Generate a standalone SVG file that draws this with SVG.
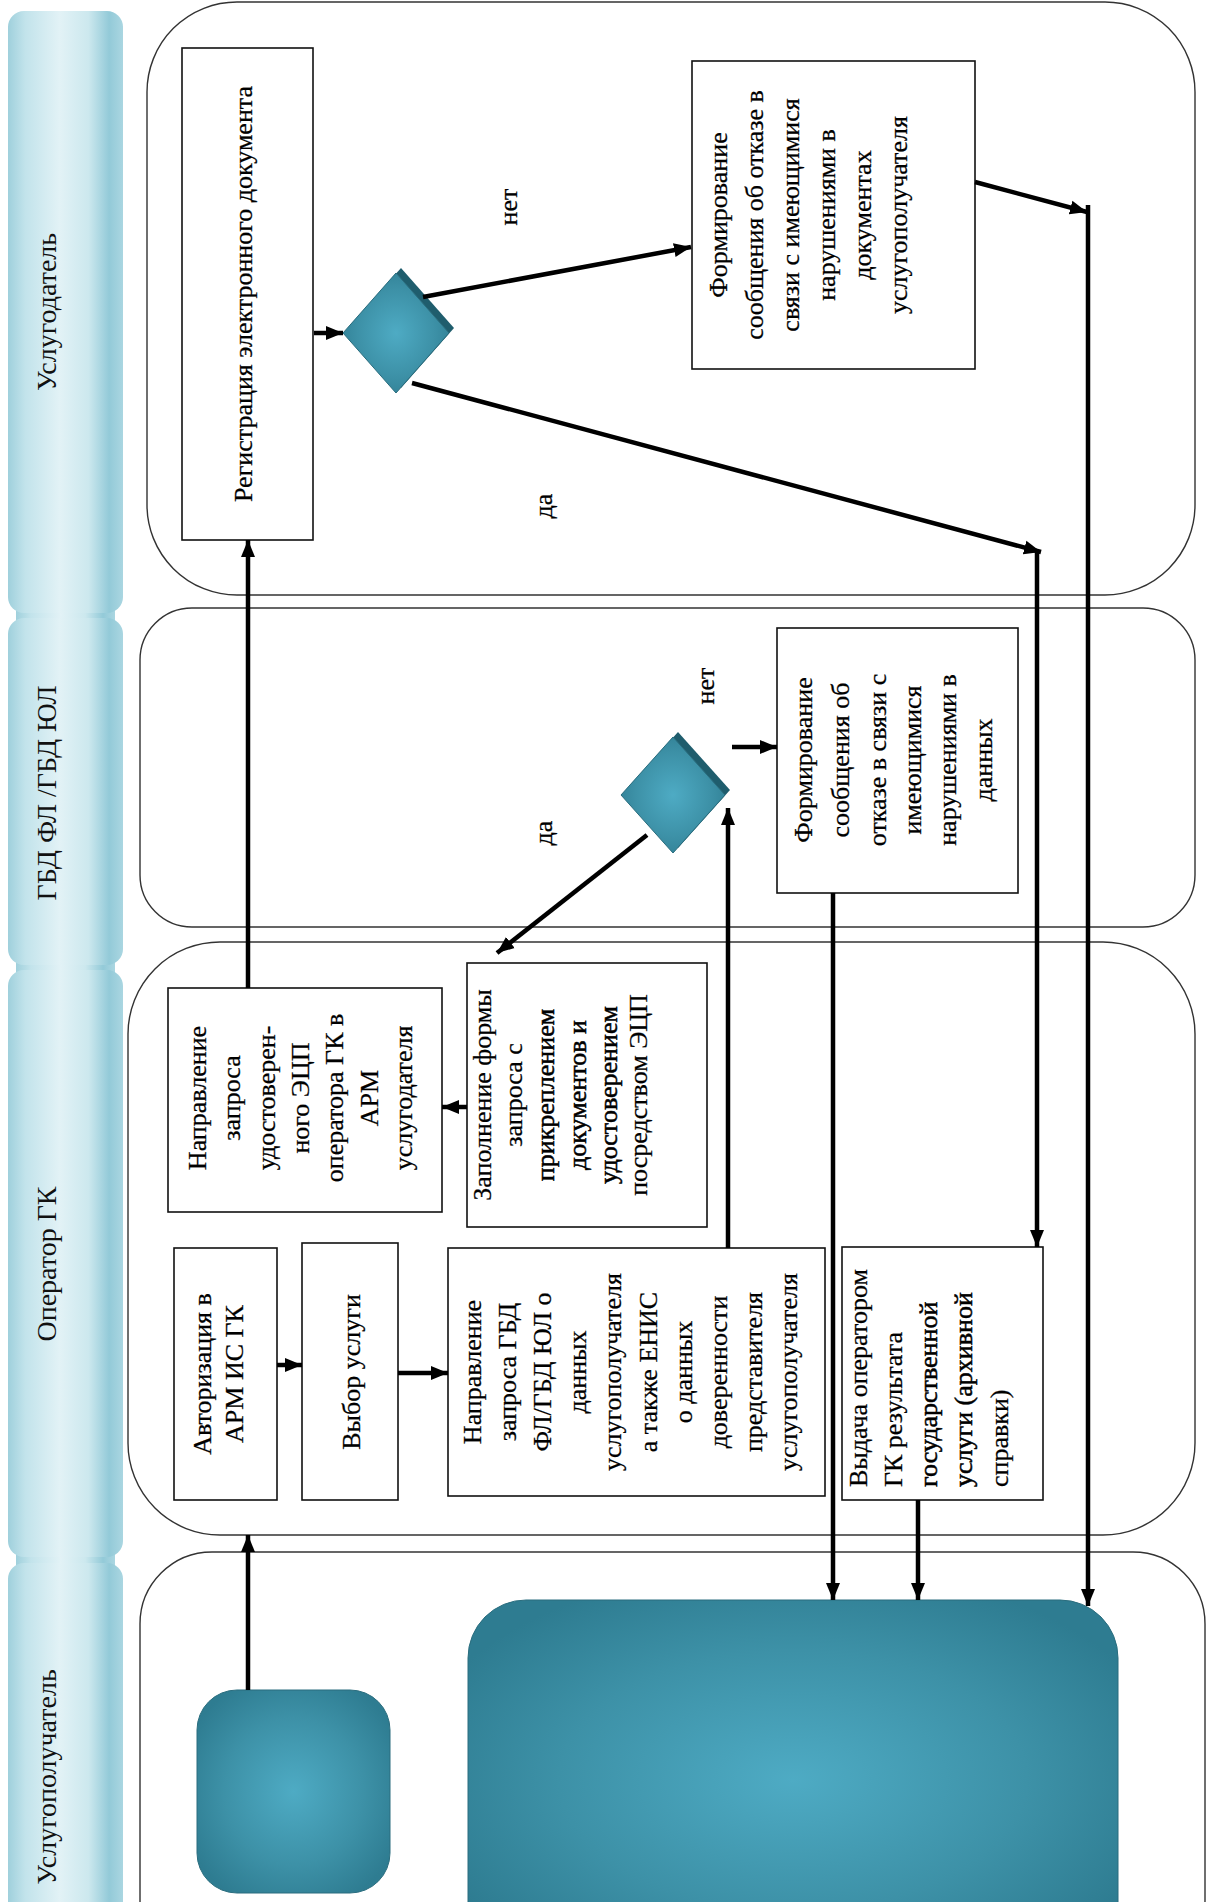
<svg xmlns="http://www.w3.org/2000/svg" width="1209" height="1902" viewBox="0 0 1209 1902">
<style>
.t{font-family:"Liberation Serif","Times New Roman",serif;font-size:26px;fill:#000;stroke:#000;stroke-width:0.25;dominant-baseline:central;text-anchor:middle}
.ts{font-family:"Liberation Serif","Times New Roman",serif;font-size:26px;fill:#000;stroke:#000;stroke-width:0.25;dominant-baseline:central;text-anchor:start}
.b{stroke:#000;stroke-width:0.5}
.h{font-family:"Liberation Serif","Times New Roman",serif;font-size:28px;fill:#111;dominant-baseline:central;text-anchor:middle}
.lane{fill:#fff;stroke:#333;stroke-width:1.4}
.box{fill:#fff;stroke:#111;stroke-width:1.6}
.hdr{fill:url(#hg)}
.ca{fill:none;stroke:#000;stroke-width:4.5;marker-end:url(#ah)}
</style>
<defs>
<linearGradient id="hg" x1="0" y1="0" x2="1" y2="0">
<stop offset="0" stop-color="#9fd0dc"/>
<stop offset="0.15" stop-color="#c2e3eb"/>
<stop offset="0.45" stop-color="#e2f2f6"/>
<stop offset="0.7" stop-color="#cce8ee"/>
<stop offset="0.88" stop-color="#93cad8"/>
<stop offset="1" stop-color="#aad6e1"/>
</linearGradient>
<radialGradient id="tg" cx="0.5" cy="0.5" r="0.6">
<stop offset="0" stop-color="#4eabc4"/>
<stop offset="0.6" stop-color="#3d91a7"/>
<stop offset="1" stop-color="#2e7c91"/>
</radialGradient>
<marker id="ah" markerUnits="userSpaceOnUse" markerWidth="18" markerHeight="16" refX="17" refY="8" orient="auto">
<path d="M0,1 L17,8 L0,15 z" fill="#000"/>
</marker>
</defs>
<rect width="1209" height="1902" fill="#fff"/>

<g id="headers">
<rect x="16" y="600" width="99" height="26" class="hdr"/>
<rect x="16" y="952" width="99" height="26" class="hdr"/>
<rect x="16" y="1544" width="99" height="28" class="hdr"/>
<g id="hdr1"><rect x="8" y="11" width="115" height="602" rx="16" class="hdr"/><text class="h" transform="translate(46,312) rotate(-90)">Услугодатель</text></g>
<g id="hdr2"><rect x="8" y="618" width="115" height="347" rx="16" class="hdr"/><text class="h" transform="translate(46,793) rotate(-90)">ГБД ФЛ /ГБД ЮЛ</text></g>
<g id="hdr3"><rect x="8" y="970" width="115" height="587" rx="16" class="hdr"/><text class="h" transform="translate(46,1264) rotate(-90)">Оператор ГК</text></g>
<g id="hdr4"><rect x="8" y="1563" width="115" height="380" rx="16" class="hdr"/><text class="h" transform="translate(46,1777) rotate(-90)">Услугополучатель</text></g>
</g>

<g id="lanes">
<rect id="lane1" x="147" y="2" width="1048" height="593" rx="90" class="lane"/>
<rect id="lane2" x="140" y="608" width="1055" height="319" rx="52" class="lane"/>
<rect id="lane3" x="128" y="942" width="1067" height="593" rx="92" class="lane"/>
<rect id="lane4" x="140" y="1552" width="1065" height="420" rx="72" class="lane"/>
</g>

<g id="reg">
<rect x="182" y="48" width="131" height="492" class="box"/>
<g transform="translate(247,294) rotate(-90)"><text class="t" x="0" y="-4">Регистрация электронного документа</text></g>
</g>

<g id="dec1">
<polygon points="401,268 454,328 401,388 348,328" fill="#1f5d6d"/>
<polygon points="396,273 449,333 396,393 343,333" fill="url(#tg)" stroke="#2a6d7e" stroke-width="1"/>
</g>

<g id="refuse1">
<rect x="692" y="61" width="283" height="308" class="box"/>
<g transform="translate(0,215) rotate(-90)">
<text class="t" x="0" y="718">Формирование</text>
<text class="t" x="0" y="754">сообщения об отказе в</text>
<text class="t" x="0" y="790">связи с имеющимися</text>
<text class="t" x="0" y="826">нарушениями в</text>
<text class="t" x="0" y="862">документах</text>
<text class="t" x="0" y="898">услугополучателя</text>
</g>
</g>

<g id="dec2">
<polygon points="678,732 730,790 678,848 626,790" fill="#1f5d6d"/>
<polygon points="673,737 725,795 673,853 621,795" fill="url(#tg)" stroke="#2a6d7e" stroke-width="1"/>
</g>

<g id="refuse2">
<rect x="777" y="628" width="241" height="265" class="box"/>
<g transform="translate(0,760) rotate(-90)">
<text class="t" x="0" y="803">Формирование</text>
<text class="t" x="0" y="840">сообщения об</text>
<text class="t" x="0" y="877">отказе в связи с</text>
<text class="t" x="0" y="912">имеющимися</text>
<text class="t" x="0" y="947">нарушениями в</text>
<text class="t" x="0" y="983">данных</text>
</g>
</g>

<g id="sendecp">
<rect x="168" y="988" width="274" height="224" class="box"/>
<g transform="translate(0,1098) rotate(-90)">
<text class="t" x="0" y="197">Направление</text>
<text class="t" x="0" y="231">запроса</text>
<text class="t" x="0" y="266">удостоверен-</text>
<text class="t" x="0" y="300">ного ЭЦП</text>
<text class="t" x="0" y="334">оператора ГК в</text>
<text class="t" x="0" y="369">АРМ</text>
<text class="t" x="0" y="403">услугодателя</text>
</g>
</g>

<g id="fill">
<rect x="467" y="963" width="240" height="264" class="box"/>
<g transform="translate(0,1095) rotate(-90)">
<text class="t" x="0" y="482">Заполнение формы</text>
<text class="t" x="0" y="513">запроса с</text>
<text class="t b" x="0" y="545">прикреплением</text>
<text class="t b" x="0" y="577">документов и</text>
<text class="t b" x="0" y="608">удостоверением</text>
<text class="t" x="0" y="638">посредством ЭЦП</text>
</g>
</g>

<g id="auth">
<rect x="174" y="1248" width="103" height="252" class="box"/>
<g transform="translate(0,1374) rotate(-90)">
<text class="t" x="0" y="202">Авторизация в</text>
<text class="t" x="0" y="234">АРМ ИС ГК</text>
</g>
</g>

<g id="choose">
<rect x="302" y="1243" width="96" height="257" class="box"/>
<g transform="translate(0,1372) rotate(-90)">
<text class="t" x="0" y="351">Выбор услуги</text>
</g>
</g>

<g id="gbdreq">
<rect x="448" y="1248" width="377" height="248" class="box"/>
<g transform="translate(0,1372) rotate(-90)">
<text class="t" x="0" y="472">Направление</text>
<text class="t" x="0" y="507">запроса ГБД</text>
<text class="t" x="0" y="542">ФЛ/ГБД ЮЛ о</text>
<text class="t" x="0" y="577">данных</text>
<text class="t" x="0" y="612">услугополучателя</text>
<text class="t" x="0" y="648">а также ЕНИС</text>
<text class="t" x="0" y="683">о данных</text>
<text class="t" x="0" y="718">доверенности</text>
<text class="t" x="0" y="753">представителя</text>
<text class="t" x="0" y="788">услугополучателя</text>
</g>
</g>

<g id="issue">
<rect x="842" y="1247" width="201" height="253" class="box"/>
<g transform="translate(0,1487) rotate(-90)">
<text class="ts" x="0" y="858">Выдача оператором</text>
<text class="ts" x="0" y="893">ГК результата</text>
<text class="ts b" x="0" y="928">государственной</text>
<text class="ts b" x="0" y="963">услуги (архивной</text>
<text class="ts" x="0" y="999">справки)</text>
</g>
</g>

<g id="start">
<rect x="197" y="1690" width="193" height="203" rx="40" fill="url(#tg)" stroke="#2a6d7e" stroke-width="1"/>
</g>
<g id="finish">
<rect x="468" y="1600" width="650" height="360" rx="58" fill="url(#tg)" stroke="#2a6d7e" stroke-width="1"/>
</g>

<g id="labels">
<text class="t" transform="translate(508,207) rotate(-90)">нет</text>
<text class="t" transform="translate(543,506) rotate(-90)">да</text>
<text class="t" transform="translate(705,686) rotate(-90)">нет</text>
<text class="t" transform="translate(543,833) rotate(-90)">да</text>
</g>

<g id="connectors">
<line class="ca" x1="314" y1="333" x2="343" y2="333"/>
<line class="ca" x1="423" y1="297" x2="691" y2="247"/>
<line class="ca" x1="412" y1="383" x2="1041" y2="552"/>
<line class="ca" x1="975" y1="182" x2="1087" y2="212"/>
<line class="ca" x1="1088" y1="205" x2="1088" y2="1606"/>
<line class="ca" x1="1037" y1="550" x2="1037" y2="1247"/>
<line class="ca" x1="833" y1="893" x2="833" y2="1600"/>
<line class="ca" x1="732" y1="747" x2="777" y2="747"/>
<line class="ca" x1="647" y1="835" x2="497" y2="953"/>
<line class="ca" x1="728" y1="1248" x2="728" y2="808"/>
<line class="ca" x1="467" y1="1107" x2="442" y2="1107"/>
<line class="ca" x1="248" y1="988" x2="248" y2="540"/>
<line class="ca" x1="277" y1="1365" x2="302" y2="1365"/>
<line class="ca" x1="398" y1="1373" x2="448" y2="1373"/>
<line class="ca" x1="918" y1="1500" x2="918" y2="1600"/>
<line class="ca" x1="248" y1="1690" x2="248" y2="1535"/>
</g>
</svg>
